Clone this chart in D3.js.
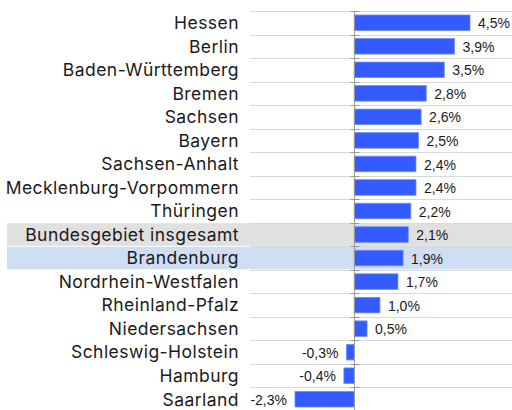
<!DOCTYPE html>
<html>
<head>
<meta charset="utf-8">
<script src="https://cdn.jsdelivr.net/npm/d3@7"></script>
<style>
  body { margin: 0; background: #fff; }
  svg { display: block; }
</style>
</head>
<body>
<div id="chart"></div>
<script>
// data
var states = [
  "Hessen", "Berlin", "Baden-Württemberg", "Bremen", "Sachsen", "Bayern",
  "Sachsen-Anhalt", "Mecklenburg-Vorpommern", "Thüringen",
  "Bundesgebiet insgesamt", "Brandenburg", "Nordrhein-Westfalen",
  "Rheinland-Pfalz", "Niedersachsen", "Schleswig-Holstein", "Hamburg", "Saarland"
];
var values = [4.5, 3.9, 3.5, 2.8, 2.6, 2.5, 2.4, 2.4, 2.2, 2.1, 1.9, 1.7, 1.0, 0.5, -0.3, -0.4, -2.3];
var highlightGray = ["Bundesgebiet insgesamt"];
var highlightBlue = ["Brandenburg"];

var width = 512;
var height = 410;

var rows = states.map(function (s, i) {
  return { name: s, v: values[i] };
});

var x = d3.scaleLinear().domain([-2.3, 4.5]).range([295, 470]);
var y = d3.scaleBand().domain(states).range([11, 411])
  .paddingInner(0.34).paddingOuter(0.17);
var step = y.step();

function rowTop(d) {
  return y(d) - step * 0.17;
}

var fmt = function (v) {
  return d3.format(".1f")(v).replace(".", ",").replace("−", "-") + "%";
};

var svg = d3.select("#chart").append("svg")
  .attr("width", width)
  .attr("height", height);

// highlight bands
svg.selectAll(".band")
  .data(states.filter(function (s) {
    return highlightGray.indexOf(s) >= 0 || highlightBlue.indexOf(s) >= 0;
  }))
  .enter().append("rect")
  .attr("class", "band")
  .attr("x", 7)
  .attr("y", function (d) { return rowTop(d) + 0.5; })
  .attr("width", width - 7)
  .attr("height", step - 1)
  .attr("fill", function (d) {
    return highlightGray.indexOf(d) >= 0 ? "#e0e0e0" : "#cfdef2";
  });

// row separators
var bounds = states.map(rowTop).concat([rowTop(states[states.length - 1]) + step]);
svg.selectAll(".grid")
  .data(bounds)
  .enter().append("line")
  .attr("class", "grid")
  .attr("x1", 250).attr("x2", width)
  .attr("y1", function (d) { return Math.round(d) + 0.5; })
  .attr("y2", function (d) { return Math.round(d) + 0.5; })
  .attr("stroke", "#d9d9d9")
  .attr("stroke-width", 1);

// bars
svg.selectAll(".bar")
  .data(rows)
  .enter().append("rect")
  .attr("class", "bar")
  .attr("x", function (d) { return x(Math.min(0, d.v)); })
  .attr("y", function (d) { return y(d.name); })
  .attr("width", function (d) { return Math.abs(x(d.v) - x(0)); })
  .attr("height", y.bandwidth())
  .attr("fill", "#335bff")
  .attr("stroke", "#6d8bff")
  .attr("stroke-width", 0.8);

// zero axis
var x0 = Math.round(x(0)) + 0.5;
svg.append("line")
  .attr("x1", x0).attr("x2", x0)
  .attr("y1", bounds[0]).attr("y2", height)
  .attr("stroke", "#9a9a9a");

svg.selectAll(".tick")
  .data(bounds)
  .enter().append("line")
  .attr("class", "tick")
  .attr("x1", x0 - 4).attr("x2", x0 + 5)
  .attr("y1", function (d) { return Math.round(d) + 0.5; })
  .attr("y2", function (d) { return Math.round(d) + 0.5; })
  .attr("stroke", "#9a9a9a");

// category labels
svg.selectAll(".lbl")
  .data(rows)
  .enter().append("text")
  .attr("class", "lbl")
  .attr("x", 239)
  .attr("y", function (d) { return y(d.name) + y.bandwidth() / 2; })
  .attr("dy", "0.36em")
  .attr("text-anchor", "end")
  .style("font-family", "Inter, 'DejaVu Sans', sans-serif")
  .style("font-size", "17.5px")
  .style("letter-spacing", "0.45px")
  .style("fill", "#1a1a1a")
  .text(function (d) { return d.name; });

// value labels
svg.selectAll(".val")
  .data(rows)
  .enter().append("text")
  .attr("class", "val")
  .attr("x", function (d) { return d.v >= 0 ? x(d.v) + 8 : x(d.v) - 8; })
  .attr("y", function (d) { return y(d.name) + y.bandwidth() / 2; })
  .attr("dy", "0.4em")
  .attr("text-anchor", function (d) { return d.v >= 0 ? "start" : "end"; })
  .style("font-family", "'Liberation Sans', Arial, sans-serif")
  .style("font-size", "14px")
  .style("fill", "#1a1a1a")
  .text(function (d) { return fmt(d.v); });
</script>
</body>
</html>
